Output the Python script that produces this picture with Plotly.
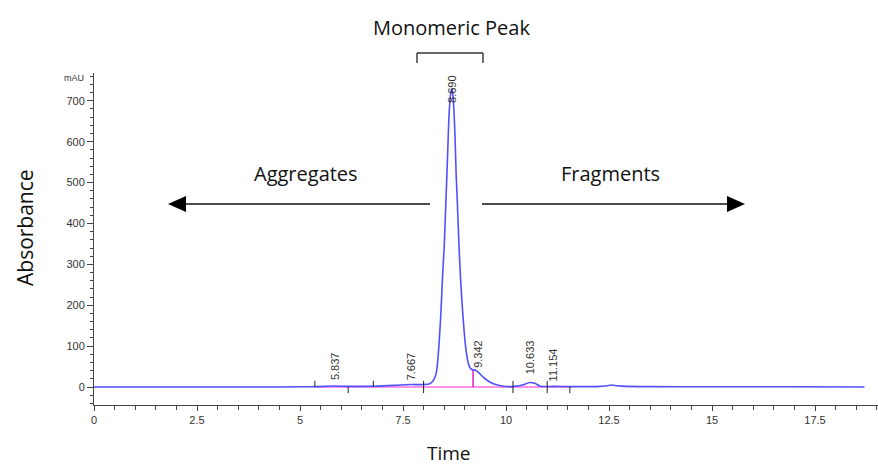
import plotly.graph_objects as go

# ---- data ----
time = [0, 2, 4, 5, 5.4, 5.837, 6.2, 6.8, 7.3, 7.667, 8.0, 8.15, 8.22, 8.28, 8.32, 8.37,
        8.42, 8.46, 8.50, 8.54, 8.58, 8.62, 8.66, 8.69, 8.72, 8.76, 8.79, 8.82, 8.86,
        8.90, 8.95, 9.02, 9.08, 9.14, 9.2, 9.28, 9.36, 9.44, 9.55, 9.65, 9.8, 9.93,
        10.2, 10.4, 10.58, 10.7, 10.83, 11.154, 11.6, 12.2, 12.45, 12.56, 12.7, 12.9,
        13.5, 15, 17, 18.7]
absorbance = [0, 0, 0, 0.5, 1, 2.5, 1.5, 2, 4, 6, 6, 8, 14, 25, 42, 98,
              181, 270, 343, 450, 560, 670, 720, 730, 705, 620, 520, 450, 343,
              260, 181, 98, 60, 45, 42, 40, 33, 25, 16, 10, 5, 2,
              1.5, 5, 11, 9, 2, 1.5, 1, 1, 3, 5, 3, 1.5,
              1, 0.5, 0.5, 0]

peak_labels = ["5.837", "7.667", "8.690", "9.342", "10.633", "11.154"]
peak_label_x = [5.85, 7.70, 8.69, 9.32, 10.58, 11.14]
peak_label_y = [12, 12, 690, 42, 26, 10]

baseline_x = [5.4, 11.6]
baseline_y = [0, 0]
drop_x = [9.2, 9.2]
drop_y = [0, 42]

boundary_x = [5.36, 6.17, 6.78, 8.0, 10.17, 11.0, 11.55]
boundary_lo = [0, -15, 0, -15, -15, -15, -15]
boundary_hi = [15, 0, 15, 15, 15, 15, 0]

# ---- layout helpers (pixel -> paper) ----
L, R, T, B = 94, 878, 73, 405
W, H = 878, 468
def px(x):
    return (x - L) / (R - L)
def py(y):
    return (B - y) / (B - T)

fig = go.Figure()

fig.add_trace(go.Scatter(x=baseline_x, y=baseline_y, mode="lines",
                         line=dict(color="#ff6fe6", width=1.6), hoverinfo="skip"))
fig.add_trace(go.Scatter(x=drop_x, y=drop_y, mode="lines",
                         line=dict(color="#e020c8", width=1.5), hoverinfo="skip"))
fig.add_trace(go.Scatter(x=time, y=absorbance, mode="lines",
                         line=dict(color="#5050ff", width=1.6, shape="spline", smoothing=0.6)))

# boundary tick segments
bx, by = [], []
for x, lo, hi in zip(boundary_x, boundary_lo, boundary_hi):
    bx += [x, x, None]
    by += [lo, hi, None]
fig.add_trace(go.Scatter(x=bx, y=by, mode="lines",
                         line=dict(color="#222222", width=1), hoverinfo="skip"))

annotations = []
for lab, x, y in zip(peak_labels, peak_label_x, peak_label_y):
    annotations.append(dict(x=x, y=y, xref="x", yref="y", text=lab, textangle=-90,
                            showarrow=False, yanchor="bottom", xanchor="center",
                            font=dict(family="Liberation Sans, Arial", size=11, color="#333")))

big = dict(family="Open Sans, Noto Sans, sans-serif", size=20, color="#111")
annotations += [
    dict(x=px(451), y=py(27), xref="paper", yref="paper", text="Monomeric Peak",
         showarrow=False, xanchor="center", yanchor="middle", font=big),
    dict(x=px(306), y=py(173), xref="paper", yref="paper", text="Aggregates",
         showarrow=False, xanchor="center", yanchor="middle", font=big),
    dict(x=px(610), y=py(173), xref="paper", yref="paper", text="Fragments",
         showarrow=False, xanchor="center", yanchor="middle", font=big),
    dict(x=px(25), y=py(228), xref="paper", yref="paper", text="Absorbance",
         textangle=-90, showarrow=False, xanchor="center", yanchor="middle",
         font=dict(big, size=21)),
    dict(x=px(449), y=py(453), xref="paper", yref="paper", text="Time",
         showarrow=False, xanchor="center", yanchor="middle", font=dict(big, size=19)),
    dict(x=px(86), y=py(78), xref="paper", yref="paper", text="mAU", xanchor="right",
         yanchor="middle", showarrow=False,
         font=dict(family="Liberation Sans, Arial", size=9, color="#333")),
]

shapes = []
def seg(x0, y0, x1, y1, w=1.3, c="#111"):
    shapes.append(dict(type="line", xref="paper", yref="paper",
                       x0=px(x0), y0=py(y0), x1=px(x1), y1=py(y1),
                       line=dict(color=c, width=w)))
# bracket
seg(417, 53, 483, 53, 1.4, "#333")
seg(417, 53, 417, 63, 1.4, "#333")
seg(483, 53, 483, 63, 1.4, "#333")
# arrows
seg(430, 204, 183, 204)
seg(482, 204, 730, 204)
def tri(xh, xb, yc, h=8):
    shapes.append(dict(type="path", xref="paper", yref="paper",
                       path=f"M {px(xh)} {py(yc)} L {px(xb)} {py(yc-h)} L {px(xb)} {py(yc+h)} Z",
                       fillcolor="#000", line=dict(color="#000", width=0)))
tri(168, 186, 204)
tri(745, 727, 204)

axis_font = dict(family="Liberation Sans, Arial", size=11, color="#333")
fig.update_layout(
    width=W, height=H,
    margin=dict(l=L, r=W - R, t=T, b=H - B),
    paper_bgcolor="white", plot_bgcolor="white",
    showlegend=False,
    annotations=annotations, shapes=shapes,
    xaxis=dict(range=[0, (R - L) / 41.2], tickvals=[0, 2.5, 5, 7.5, 10, 12.5, 15, 17.5],
               ticktext=["0", "2.5", "5", "7.5", "10", "12.5", "15", "17.5"],
               showgrid=False, zeroline=False, showline=True, linecolor="#444", linewidth=1,
               ticks="outside", ticklen=5, tickcolor="#444", tickfont=axis_font,
               minor=dict(dtick=0.5, ticks="outside", ticklen=4, tickcolor="#444")),
    yaxis=dict(range=[-44, 768], tickvals=[0, 100, 200, 300, 400, 500, 600, 700],
               showgrid=False, zeroline=False, showline=True, linecolor="#444", linewidth=1,
               ticks="outside", ticklen=6, tickcolor="#444", tickfont=axis_font,
               minor=dict(dtick=20, ticks="outside", ticklen=3, tickcolor="#444")),
)

fig.write_html("out.html")
